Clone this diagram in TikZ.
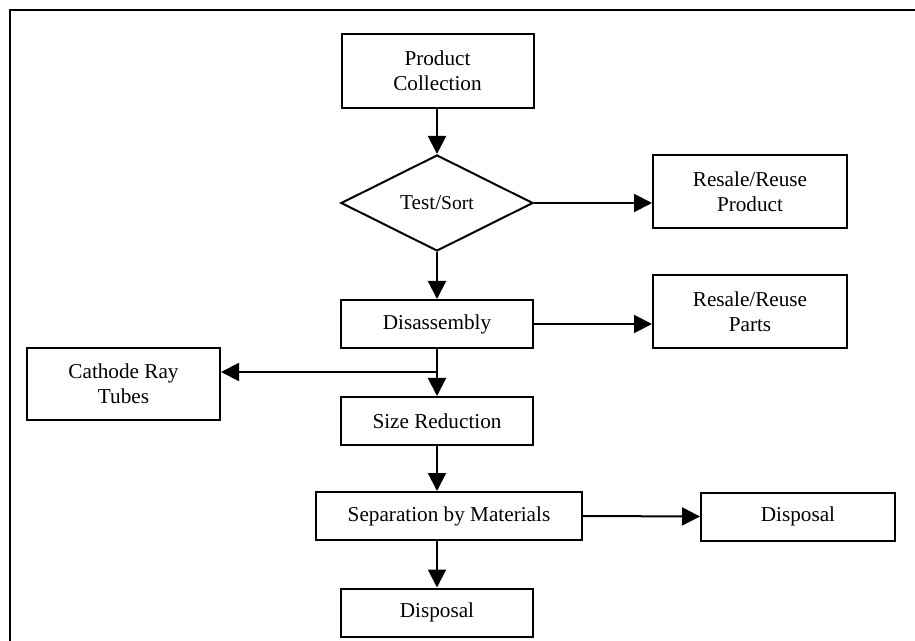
\documentclass[tikz,border=0pt]{standalone}
\usepackage{fontspec}
\setmainfont{Liberation Serif}
\usetikzlibrary{shapes.geometric, arrows.meta, positioning}

\begin{document}
\begin{tikzpicture}[
    x=0.5pt, y=-0.5pt,
    box/.style={rectangle, draw, line width=1pt, minimum width=96pt, minimum height=24pt, inner sep=0pt, align=center, font=\fontsize{10.6}{12.4}\selectfont},
    tallbox/.style={box, minimum width=97pt, minimum height=36.5pt},
    decision/.style={diamond, draw, line width=1pt, aspect=2, minimum width=96pt, minimum height=48pt, inner sep=0pt, align=center, font=\fontsize{10.6}{12.4}\selectfont},
    arrow/.style={-{Triangle[length=9pt, width=9pt]}, line width=1pt},
]
\useasboundingbox (0,0) rectangle (915,641);

% frame
\draw[line width=1pt] (10,660) -- (10,10) -- (930,10);

\node[tallbox, minimum width=96pt, minimum height=37pt] (collect) at (437.5,71) {Product\\Collection};
\node[decision] (test) at (437,203) {Test/{\fontsize{9.8}{11}\selectfont Sort}};
\node[tallbox] (product) at (750,191.5) {Resale/Reuse\\Product};
\node[box] (disasm) at (437,324)    {Disassembly};
\node[tallbox] (parts) at (750,312) {Resale/Reuse\\Parts};
\node[tallbox, minimum width=96.5pt, minimum height=36pt] (crt) at (123.5,384) {Cathode Ray\\Tubes};
\node[box] (size) at (437,421)      {Size Reduction};
\node[box, minimum width=133pt] (separate) at (449,516) {Separation by Materials};
\node[box] (dispose) at (437,612.5) {Disposal};
\node[box, minimum width=97pt] (disposeR) at (798,516.5) {Disposal};

\coordinate (split) at (437,372);

\draw[arrow] (collect.south -| test.north) -- (test);
\draw[arrow] (test.east) -- (test.east -| product.west);
\draw[arrow] (test) -- (disasm);
\draw[arrow] (disasm.east) -- (disasm.east -| parts.west);
\draw[arrow] (disasm) -- (size);
\draw[arrow] (split) -- (split -| crt.east);
\draw[arrow] (size.south) -- (size.south |- separate.north);
\draw[arrow] (dispose.north |- separate.south) -- (dispose.north);
\draw[arrow] (separate.east) -- (disposeR.west);

\end{tikzpicture}
\end{document}
